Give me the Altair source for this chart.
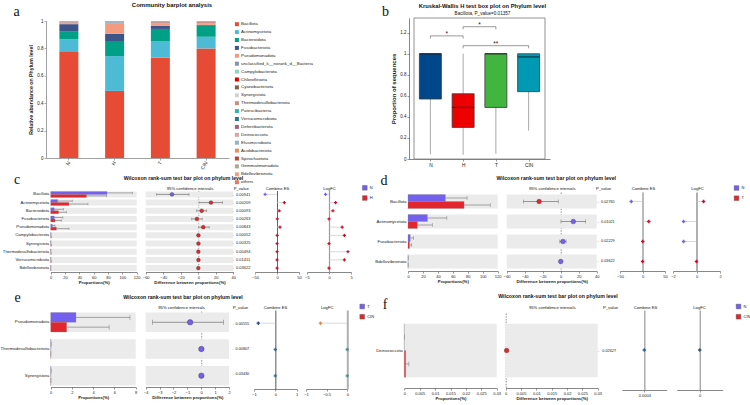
import altair as alt
import pandas as pd

FONT = "Liberation Sans"
SERIF = "Liberation Serif"
PURPLE = "#7460ee"
RED = "#e3262e"
BAND = "#ebebeb"
AXIS = "#555555"
TEXT = "#222222"
ERR = "#6e6e6e"
W, H = 750, 405

# ---------------- a: phylum composition per group ----------------
groups_a = ["N", "H", "T", "CIN"]
phyla = ["Bacillota", "Actinomycetota", "Bacteroidota", "Fusobacteriota", "Pseudomonadota",
         "unclassified_k__norank_d__Bacteria", "Campylobacterota", "Chloroflexota",
         "Cyanobacteriota", "Synergistota", "Thermodesulfobacteriota", "Patescibacteria",
         "Verrucomicrobiota", "Deferribacterota", "Deinococcota", "Elusimicrobiota",
         "Acidobacteriota", "Spirochaetota", "Gemmatimonadota", "Bdellovibrionota", "others"]
phylum_colors = ["#e64b35", "#4dbbd5", "#00a087", "#3c5488", "#f39b7f", "#8491b4", "#91d1c2",
                 "#dc0000", "#7e6148", "#d2d2d2", "#c4907f", "#35b1ad", "#2d7689", "#a0617f",
                 "#d9a3a3", "#8fb4c2", "#e3905c", "#b24a30", "#b3a594", "#eca08c", "#e27763"]
# relative abundance, one row per phylum, columns follow groups_a
abundance = [
    [0.779, 0.490, 0.732, 0.800],
    [0.088, 0.254, 0.122, 0.085],
    [0.059, 0.110, 0.088, 0.081],
    [0.051, 0.053, 0.024, 0.006],
    [0.006, 0.076, 0.017, 0.010],
    [0.003, 0.008, 0.004, 0.003],
    [0.002, 0.002, 0.003, 0.003],
    [0.002, 0.001, 0.002, 0.003],
    [0.001, 0.001, 0.001, 0.001],
    [0.001, 0.001, 0.001, 0.001],
    [0.001, 0.001, 0.001, 0.001],
    [0.001, 0.001, 0.001, 0.001],
    [0.001, 0.0005, 0.001, 0.001],
    [0.001, 0.0005, 0.001, 0.002],
    [0.001, 0.0005, 0.0005, 0.001],
    [0.0005, 0.0005, 0.0005, 0.0005],
    [0.0005, 0.0, 0.0005, 0.0005],
    [0.0005, 0.0, 0.0005, 0.0],
    [0.0005, 0.0, 0.0, 0.0],
    [0.0005, 0.0, 0.0, 0.0],
    [0.0005, 0.0, 0.0, 0.0],
]

# ---------------- b: Kruskal-Wallis box plot (Bacillota) ----------------
box_groups = ["N", "H", "T", "CIN"]
box_colors = ["#00468b", "#ed0000", "#42b540", "#0099b4"]
box_low = [0.045, 0.04, 0.05, 0.27]
box_q1 = [0.57, 0.30, 0.49, 0.64]
box_median = [1.0, 0.49, 1.0, 0.97]
box_q3 = [1.0, 0.62, 1.0, 1.0]
box_high = [1.0, 1.0, 1.0, 1.0]
sig_pairs = [("N", "H"), ("H", "T"), ("H", "CIN")]
sig_level = [1.17, 1.257, 1.077]
sig_mark = ["*", "*", "**"]

# ---------------- c: N vs H ----------------
c_taxa = ["Bacillota", "Actinomycetota", "Bacteroidota", "Fusobacteriota", "Pseudomonadota",
          "Campylobacterota", "Synergistota", "Thermodesulfobacteriota", "Verrucomicrobiota",
          "Bdellovibrionota"]
c_mean_1 = [78.6, 9.8, 5.0, 5.0, 2.3, 0.1, 0.05, 0.05, 0.05, 0.02]
c_sd_1 = [35.5, 20.2, 12.6, 12.0, 3.7, 0.3, 0.2, 0.2, 0.2, 0.1]
c_mean_2 = [50.0, 25.5, 11.0, 6.0, 8.0, 0.3, 0.3, 0.2, 0.3, 0.1]
c_sd_2 = [28.0, 26.5, 11.0, 9.0, 17.5, 0.6, 0.5, 0.4, 0.5, 0.2]
c_diff = [-30.0, 14.5, 3.9, -1.5, 5.7, 0.2, 0.2, 0.1, 0.2, 0.1]
c_ci_low = [-47.5, 0.8, -1.8, -7.5, 0.2, 0.0, 0.0, 0.0, 0.0, 0.0]
c_ci_high = [-10.6, 27.8, 9.6, 4.5, 12.5, 0.4, 0.4, 0.2, 0.4, 0.2]
c_pval = ["0.00941", "0.00209", "0.00093", "0.00263", "0.00843", "0.00052", "0.00325",
          "0.00494", "0.01411", "0.03622"]
c_es = [-27.0, 16.6, 5.0, 0.7, 6.8, 0.4, 0.3, 0.3, 0.2, 0.2]
c_lfc = [-0.8, 1.5, 0.9, 0.0, 3.0, 3.5, 0.0, 4.3, 3.5, 0.0]

# ---------------- d: N vs T ----------------
d_taxa = ["Bacillota", "Actinomycetota", "Fusobacteriota", "Bdellovibrionota"]
d_mean_1 = [50.0, 26.0, 3.0, 0.1]
d_sd_1 = [29.0, 26.0, 4.5, 0.1]
d_mean_2 = [75.0, 12.5, 2.0, 0.05]
d_sd_2 = [35.0, 20.0, 3.0, 0.1]
d_diff = [-24.0, 14.0, 2.5, 0.05]
d_ci_low = [-41.5, 0.3, -1.0, 0.0]
d_ci_high = [-2.7, 27.7, 6.0, 0.1]
d_pval = ["0.02765", "0.01021", "0.02229", "0.03622"]
d_es = [-25.0, 14.0, 0.5, 0.2]
d_lfc = [0.6, -1.1, -1.1, 0.0]

# ---------------- e: T vs CIN ----------------
e_taxa = ["Pseudomonadota", "Thermodesulfobacteriota", "Synergistota"]
e_mean_1 = [2.38, 0.02, 0.02]
e_sd_1 = [5.08, 0.02, 0.02]
e_mean_2 = [1.5, 0.01, 0.01]
e_sd_2 = [4.0, 0.01, 0.01]
e_diff = [-0.8, 0.01, 0.01]
e_ci_low = [-3.5, 0.0, 0.0]
e_ci_high = [1.6, 0.02, 0.02]
e_pval = ["0.00555", "0.00807", "0.03430"]
e_es = [-0.8, 0.0, 0.0]
e_lfc = [-0.65, 0.0, 0.0]

# ---------------- f: N vs CIN ----------------
f_taxa = ["Deinococcota"]
f_mean_1 = [0.0]
f_sd_1 = [0.0]
f_mean_2 = [0.00045]
f_sd_2 = [0.00105]
f_diff = [0.0003]
f_ci_low = [0.0]
f_ci_high = [0.0006]
f_pval = ["0.02627"]
f_es = [0.0004]
f_lfc = [0.0]

_one = pd.DataFrame({"v": [0]})


# ---------------- helpers ----------------
def px(v, dom, rng):
    """Pixel position of value v on a linear scale."""
    return rng[0] + (v - dom[0]) / (dom[1] - dom[0]) * (rng[1] - rng[0])


def ax(orient, offset, values=None, title=None, fmt="~g", fs=4.0, tfs=4.3, **kw):
    d = dict(orient=orient, offset=offset, title=title, labelFontSize=fs, titleFontSize=tfs,
             labelFont=FONT, titleFont=FONT, titleFontWeight="bold", tickSize=2, tickWidth=0.6,
             domainColor=AXIS, tickColor=AXIS, domainWidth=0.7, labelPadding=1, titlePadding=1.5,
             grid=False, labelColor=TEXT, titleColor=TEXT, labelFlush=False, labelOverlap=False)
    if values is not None:
        d["values"] = values
    if fmt:
        d["format"] = fmt
    d.update(kw)
    return alt.Axis(**d)


def line_axis(orient, offset, color, width, dash=None):
    """An axis reduced to its domain line, used as a reference line."""
    kw = dict(orient=orient, offset=offset, title=None, labels=False, ticks=False, grid=False,
              domain=True, domainColor=color, domainWidth=width)
    if dash:
        kw["domainDash"] = dash
    return alt.Axis(**kw)


def caption(text, xc, baseline, fs, weight="normal", font=FONT, span=40):
    """Free text rendered as the title of an otherwise empty top axis."""
    return alt.Chart(_one).mark_point(opacity=0).encode(
        x=alt.X("v:Q", scale=alt.Scale(domain=[0, 1], range=[xc - span / 2, xc + span / 2]),
                axis=alt.Axis(orient="top", offset=-baseline, labels=False, ticks=False,
                              domain=False, grid=False, title=text, titlePadding=0,
                              titleBaseline="alphabetic", titleFont=font, titleFontSize=fs,
                              titleFontWeight=weight, titleColor="#111111")))


layers = []

# ---------------- panel a ----------------
rows_a = []
for rank, (name, vals) in enumerate(zip(phyla, abundance)):
    for g, v in zip(groups_a, vals):
        rows_a.append({"group": g, "phylum": name, "rank": rank, "value": v})
df_a = pd.DataFrame(rows_a)

A_X, A_Y = [46, 229], [158, 21]
chart_a = alt.Chart(df_a).mark_bar().encode(
    x=alt.X("group:N", sort=groups_a,
            scale=alt.Scale(domain=groups_a, range=A_X, paddingInner=0.585, paddingOuter=0.2925),
            axis=ax("bottom", A_Y[0] - H, title=None, fmt=None, fs=5, labelAngle=-60,
                    domainColor="#777", tickColor="#777")),
    y=alt.Y("value:Q", stack="zero", scale=alt.Scale(domain=[0, 1], range=A_Y, nice=False),
            axis=ax("left", -A_X[0], values=[0, 0.2, 0.4, 0.6, 0.8, 1], fmt=".1~f", fs=4.5,
                    title="Relative abundance on Phylum level", tfs=5.2, titlePadding=3,
                    domainColor="#777", tickColor="#777")),
    color=alt.Color("phylum:N", sort=phyla, scale=alt.Scale(domain=phyla, range=phylum_colors),
                    legend=alt.Legend(orient="none", legendX=234.7, legendY=22, title=None,
                                      symbolType="square", symbolSize=16, symbolStrokeWidth=0,
                                      labelFontSize=4.4, labelFont=FONT, labelColor=TEXT,
                                      rowPadding=1.9, padding=0, labelOffset=2,
                                      labelLimit=300, symbolLimit=40)),
    order=alt.Order("rank:Q", sort="ascending"),
)
layers += [chart_a, caption("Community barplot analysis", 171.5, 6.3, 6, "bold"),
           caption("a", 16, 15.5, 14, font=SERIF, span=10)]

# ---------------- panel b ----------------
df_b = pd.DataFrame({"group": box_groups, "pos": list(range(len(box_groups))),
                     "low": box_low, "q1": box_q1, "median": box_median,
                     "q3": box_q3, "high": box_high})
df_sig = pd.DataFrame({"x1": [box_groups.index(a) for a, _ in sig_pairs],
                       "x2": [box_groups.index(b) for _, b in sig_pairs],
                       "level": sig_level, "mark": sig_mark})
B_X, B_Y = [409, 550], [159, 18]
B_XD, B_YD = [-0.5, len(box_groups) - 0.5], [0, 1.34]
bxs = alt.Scale(domain=B_XD, range=B_X, nice=False, zero=False)
bys = alt.Scale(domain=B_YD, range=B_Y, nice=False, zero=False)
label_expr = "[" + ",".join("'%s'" % g for g in box_groups) + "][datum.value]"
whisk = alt.Chart(df_b).mark_rule(color="#a8a8a8", strokeWidth=1).encode(
    x=alt.X("pos:Q", scale=bxs,
            axis=ax("bottom", B_Y[0] - H, values=list(range(len(box_groups))), fmt=None,
                    labelExpr=label_expr, fs=4.8)),
    y=alt.Y("low:Q", scale=bys,
            axis=ax("left", -B_X[0], values=[round(i * 0.1, 1) for i in range(13)], fs=4.5,
                    title="Proportion of sequences", tfs=6, titlePadding=3)),
    y2="high:Q")
frame = alt.Chart(_one).mark_rect(fillOpacity=0, stroke="#777777", strokeWidth=0.8).encode(
    x=alt.X(datum=B_XD[0], scale=bxs), x2=alt.datum(B_XD[1]),
    y=alt.Y(datum=B_YD[0], scale=bys), y2=alt.datum(B_YD[1]))
boxes = alt.Chart(df_b).mark_bar(size=22, stroke="#3a3a3a", strokeWidth=0.8).encode(
    x="pos:Q", y="q1:Q", y2="q3:Q",
    color=alt.Color("group:N", scale=alt.Scale(domain=box_groups, range=box_colors), legend=None))
medians = alt.Chart(df_b).mark_tick(size=22, thickness=1.2, color="#111111",
                                    orient="horizontal").encode(x="pos:Q", y="median:Q")
brk = alt.Chart(df_sig).mark_rule(color="#555", strokeWidth=0.6).encode(
    x="x1:Q", x2="x2:Q", y="level:Q")
brk_ends = alt.Chart(df_sig).transform_fold(["x1", "x2"], as_=["end", "xe"]).transform_calculate(
    foot="datum.level - 0.025").mark_rule(color="#555", strokeWidth=0.6).encode(
    x="xe:Q", y="foot:Q", y2="level:Q")
stars = alt.Chart(df_sig).transform_calculate(mid="(datum.x1 + datum.x2) / 2").mark_text(
    fontSize=6.5, baseline="bottom", dy=1.5, color=TEXT, font=FONT).encode(
    x="mid:Q", y="level:Q", text="mark:N")
layers += [alt.layer(whisk, frame, boxes, medians, brk, brk_ends, stars),
           caption("Kruskal-Wallis H test box plot on Phylum level", 482, 7, 5.8, "bold"),
           caption("Bacillota, P_value=0.01357", 482, 14, 4.6),
           caption("b", 385, 15, 14, font=SERIF, span=10)]


# ---------------- Wilcoxon panels ----------------
def sign_of(v):
    return "neg" if v < 0 else ("pos" if v > 0 else "zero")


def wilcoxon(d, L):
    taxa = d["taxa"]
    g1, g2 = d["groups"]
    n = len(taxa)
    bars_df = pd.DataFrame({"taxon": taxa * 2, "group": [g1] * n + [g2] * n,
                            "mean": list(d["m1"]) + list(d["m2"]),
                            "sd": list(d["s1"]) + list(d["s2"])})
    bars_df["end"] = bars_df["mean"] + bars_df["sd"]
    rows = pd.DataFrame({"taxon": taxa, "diff": d["diff"], "lo": d["lo"], "hi": d["hi"],
                         "pval": d["pval"], "es": d["es"], "lfc": d["lfc"]})
    rows["higher"] = [g1 if a >= b else g2 for a, b in zip(d["m1"], d["m2"])]
    rows["es_sign"] = [sign_of(v) for v in d["es"]]
    rows["lfc_sign"] = [sign_of(v) for v in d["lfc"]]

    ys = alt.Scale(domain=taxa, range=L["y"], paddingInner=L["pin"], paddingOuter=L["pout"])
    yes = alt.Scale(domain=taxa, range=L["es_y"], paddingInner=L["es_pin"],
                    paddingOuter=L["es_pout"])
    axis_y = L["y"][1]
    grp = alt.Scale(domain=[g1, g2], range=[PURPLE, RED])
    yo = alt.YOffset("group:N", sort=[g1, g2], scale=alt.Scale(domain=[g1, g2]))
    out = []

    # proportions
    pxs = alt.Scale(domain=L["prop_dom"], range=L["prop_x"], nice=False)
    bg = alt.Chart(rows).mark_bar(color=BAND).encode(
        y=alt.Y("taxon:N", sort=taxa, scale=ys,
                axis=alt.Axis(orient="left", offset=-L["prop_x"][0], title=None, domain=False,
                              ticks=False, grid=False, labelFontSize=L["fs_taxa"],
                              labelFont=FONT, labelColor=TEXT, labelPadding=2, labelLimit=300)),
        x=alt.X(datum=L["prop_dom"][0], scale=pxs), x2=alt.datum(L["prop_dom"][1]))
    bar = alt.Chart(bars_df).mark_bar(stroke="#8a8a8a", strokeWidth=0.3).encode(
        x=alt.X("mean:Q", scale=pxs,
                axis=ax("bottom", axis_y - H, values=L["prop_ticks"], title="Proportions(%)")),
        y=alt.Y("taxon:N", sort=taxa, scale=ys), yOffset=yo,
        color=alt.Color("group:N", sort=[g1, g2], scale=grp,
                        legend=alt.Legend(orient="none", legendX=L["leg"][0],
                                          legendY=L["leg"][1], title=None,
                                          symbolType="square", symbolSize=22,
                                          symbolStrokeWidth=0.4, symbolStrokeColor="#555",
                                          labelFontSize=4, labelFont=FONT, labelColor=TEXT,
                                          rowPadding=2.2, padding=0, labelOffset=2)))
    err = alt.Chart(bars_df).mark_rule(color=ERR, strokeWidth=0.6).encode(
        x="mean:Q", x2="end:Q", y=alt.Y("taxon:N", sort=taxa, scale=ys), yOffset=yo)
    cap = alt.Chart(bars_df).mark_tick(color=ERR, thickness=0.6, size=L["cap"],
                                       orient="vertical").encode(
        x="end:Q", y=alt.Y("taxon:N", sort=taxa, scale=ys), yOffset=yo)
    out.append(alt.layer(bg, bar, err, cap))

    # confidence intervals
    cxs = alt.Scale(domain=L["ci_dom"], range=L["ci_x"], nice=False, zero=False)
    zero_px = px(0, L["ci_dom"], L["ci_x"])
    bg2 = alt.Chart(rows).mark_bar(color=BAND).encode(
        y=alt.Y("taxon:N", sort=taxa, scale=ys,
                axis=line_axis("left", -zero_px, "#444444", 0.6, [1.5, 1.2])),
        x=alt.X(datum=L["ci_dom"][0], scale=cxs,
                axis=ax("bottom", axis_y - H, values=L["ci_ticks"],
                        title="Difference between proportions(%)")),
        x2=alt.datum(L["ci_dom"][1]))
    ci = alt.Chart(rows).mark_rule(color=ERR, strokeWidth=0.7).encode(
        x="lo:Q", x2="hi:Q", y=alt.Y("taxon:N", sort=taxa, scale=ys))
    ci_caps = alt.Chart(rows).transform_fold(["lo", "hi"], as_=["end", "val"]).mark_tick(
        color=ERR, thickness=0.7, size=L["ci_cap"], orient="vertical").encode(
        x="val:Q", y=alt.Y("taxon:N", sort=taxa, scale=ys))
    pt = alt.Chart(rows).mark_circle(size=L["pt"], stroke="#3a3a3a", strokeWidth=0.4,
                                     opacity=1).encode(
        x="diff:Q", y=alt.Y("taxon:N", sort=taxa, scale=ys),
        color=alt.Color("higher:N", scale=grp, legend=None))
    out.append(alt.layer(bg2, ci, ci_caps, pt))

    # p-values with a small marker in front
    out.append(alt.Chart(rows).mark_text(color="#f07a7a", fontSize=L["fs_p"],
                                         fontWeight="bold").encode(
        y=alt.Y("taxon:N", sort=taxa, scale=ys, axis=None),
        x=alt.X(datum=0, scale=alt.Scale(domain=[0, 1], range=[L["p_mark"], L["p_mark"] + 1]),
                axis=None),
        text=alt.value("-")))
    out.append(alt.Chart(rows).mark_text(align="left", color=TEXT, fontSize=L["fs_p"],
                                         font=FONT).encode(
        y=alt.Y("taxon:N", sort=taxa, scale=ys, axis=None),
        x=alt.X(datum=0, scale=alt.Scale(domain=[0, 1], range=[L["p_text"], L["p_text"] + 1]),
                axis=None),
        text="pval:N"))

    # effect size and fold change columns
    for key, sign in (("es", "es_sign"), ("lfc", "lfc_sign")):
        dom, rng = L[key + "_dom"], L[key + "_x"]
        ref = L.get(key + "_ref", 0)
        xs = alt.Scale(domain=dom, range=rng, nice=False, zero=False)
        link = alt.Chart(rows).transform_calculate(base=str(ref)).mark_rule(
            color="#c8c8c8", strokeWidth=0.7).encode(
            x=alt.X("base:Q", scale=xs,
                    axis=ax("bottom", L["es_y"][1] - H, values=L[key + "_ticks"],
                            fmt=L.get(key + "_fmt", "~g"))),
            x2=f"{key}:Q",
            y=alt.Y("taxon:N", sort=taxa, scale=yes,
                    axis=line_axis("left", -px(ref, dom, rng), L[key + "_line"],
                                   L[key + "_lw"])))
        pts = alt.Chart(rows).mark_point(shape="cross", filled=True, size=L["es_pt"],
                                         strokeWidth=0, opacity=1).encode(
            x=f"{key}:Q", y=alt.Y("taxon:N", sort=taxa, scale=yes),
            color=alt.Color(f"{sign}:N", scale=alt.Scale(domain=["neg", "zero", "pos"],
                                                         range=L[key + "_colors"]),
                            legend=None))
        out.append(alt.layer(link, pts))

    # texts
    out += [
        caption("Wilcoxon rank-sum test bar plot on phylum level", L["title_x"], L["title_y"],
                5.2, "bold", span=120),
        caption("95% confidence intervals", L["ci_head"], L["head_y"], 4.2),
        caption("P_value", L["p_head"], L["head_y"], 4.2),
        caption("Combine ES", L["es_head"], L["head_y"], 4.2),
        caption("LogFC", L["lfc_head"], L["head_y"], 4.2),
        caption(L["letter"], L["letter_x"], L["letter_y"], 14, font=SERIF, span=10),
    ]
    return out


CD_COLORS = ["#7460ee", "#c8102e", "#c8102e"]

Lc = dict(y=[190.5, 272], pin=0.27, pout=0.11, es_y=[190.5, 272], es_pin=0.27, es_pout=0.11,
          prop_x=[50.7, 136.7], prop_dom=[0, 120], prop_ticks=[0, 20, 40, 60, 80, 100, 120],
          ci_x=[145.7, 233.3], ci_dom=[-60, 40], ci_ticks=[-60, -40, -20, 0, 20, 40],
          p_mark=233.5, p_text=236,
          es_x=[255, 299], es_dom=[-50, 50], es_ticks=[-50, 0, 50], es_colors=CD_COLORS,
          es_line="#555555", es_lw=0.9,
          lfc_x=[307, 351], lfc_dom=[-5, 5], lfc_ticks=[-5, 0, 5], lfc_colors=CD_COLORS,
          lfc_line="#9a9a9a", lfc_lw=1.2,
          fs_taxa=4.2, fs_p=4.0, pt=14, es_pt=10, cap=2.5, ci_cap=2.5, leg=(361.8, 184.8),
          title_x=183, title_y=179, head_y=189.8, ci_head=189.5, p_head=240.7, es_head=277,
          lfc_head=329, letter="c", letter_x=16.5, letter_y=183.5)
Ld = dict(y=[192, 271], pin=0.3, pout=0.125, es_y=[192, 271], es_pin=0.3, es_pout=0.125,
          prop_x=[408, 497.7], prop_dom=[0, 120], prop_ticks=[0, 20, 40, 60, 80, 100, 120],
          ci_x=[506.7, 596.7], ci_dom=[-60, 40], ci_ticks=[-60, -40, -20, 0, 20, 40],
          p_mark=598, p_text=601,
          es_x=[620, 665], es_dom=[-50, 50], es_ticks=[-50, 0, 50], es_colors=CD_COLORS,
          es_line="#666666", es_lw=0.9,
          lfc_x=[673, 720], lfc_dom=[-2, 2], lfc_ticks=[-2, 0, 2], lfc_colors=CD_COLORS,
          lfc_line="#b0b0b0", lfc_lw=2,
          fs_taxa=4.4, fs_p=3.8, pt=22, es_pt=12, cap=4, ci_cap=4, leg=(733.5, 185),
          title_x=555.7, title_y=179.2, head_y=189.8, ci_head=551.7, p_head=603, es_head=643,
          lfc_head=697, letter="d", letter_x=383.5, letter_y=184)
Le = dict(y=[311, 387], pin=0.27, pout=0.058, es_y=[310, 389], es_pin=0, es_pout=0,
          prop_x=[50.7, 135.7], prop_dom=[0, 8], prop_ticks=[0, 2, 4, 6, 8],
          ci_x=[145.7, 229], ci_dom=[-4, 2], ci_ticks=[-4, -3, -2, -1, 0, 1, 2],
          p_mark=233.3, p_text=235.5,
          es_x=[254, 296.7], es_dom=[-1, 1], es_ticks=[-1, 0, 1],
          es_colors=["#2a4b8d", "#2f6f8f", "#2f6f8f"], es_line="#444444", es_lw=0.9,
          lfc_x=[306, 347.3], lfc_dom=[-1, 0], lfc_ticks=[-1, -0.5, 0],
          lfc_colors=["#d98a4e", "#3d9a8b", "#3d9a8b"], lfc_line="#b0b0b0", lfc_lw=2,
          fs_taxa=4.4, fs_p=3.8, pt=30, es_pt=12, cap=5, ci_cap=5, leg=(359.2, 303.5),
          title_x=182.5, title_y=298.6, head_y=308.8, ci_head=181, p_head=240, es_head=275,
          lfc_head=326.7, letter="e", letter_x=17, letter_y=301.7)
Lf = dict(y=[313, 388], pin=0, pout=0.2, es_y=[310, 390], es_pin=0, es_pout=0,
          prop_x=[404.3, 496.7], prop_dom=[0, 0.03],
          prop_ticks=[0, 0.005, 0.01, 0.015, 0.02, 0.025, 0.03],
          ci_x=[505.7, 597.7], ci_dom=[0, 0.03],
          ci_ticks=[0, 0.005, 0.01, 0.015, 0.02, 0.025, 0.03],
          p_mark=598.5, p_text=602.3,
          es_x=[622, 666.7], es_dom=[0.0002, 0.0006], es_ticks=[0.0004], es_ref=0.0004,
          es_colors=["#2b5aa8", "#2b5aa8", "#2b5aa8"], es_line="#777777", es_lw=0.9,
          lfc_x=[676.7, 722.7], lfc_dom=[-1, 1], lfc_ticks=[0],
          lfc_colors=["#2b5aa8", "#2b5aa8", "#2b5aa8"], lfc_line="#777777", lfc_lw=0.9,
          fs_taxa=4.4, fs_p=3.8, pt=22, es_pt=12, cap=5, ci_cap=4, leg=(735.5, 303.5),
          title_x=557.5, title_y=297.6, head_y=308.5, ci_head=551.7, p_head=610, es_head=645,
          lfc_head=699, letter="f", letter_x=384.5, letter_y=308)

layers += wilcoxon(dict(taxa=c_taxa, groups=("N", "H"), m1=c_mean_1, s1=c_sd_1, m2=c_mean_2,
                        s2=c_sd_2, diff=c_diff, lo=c_ci_low, hi=c_ci_high, pval=c_pval,
                        es=c_es, lfc=c_lfc), Lc)
layers += wilcoxon(dict(taxa=d_taxa, groups=("N", "T"), m1=d_mean_1, s1=d_sd_1, m2=d_mean_2,
                        s2=d_sd_2, diff=d_diff, lo=d_ci_low, hi=d_ci_high, pval=d_pval,
                        es=d_es, lfc=d_lfc), Ld)
layers += wilcoxon(dict(taxa=e_taxa, groups=("T", "CIN"), m1=e_mean_1, s1=e_sd_1, m2=e_mean_2,
                        s2=e_sd_2, diff=e_diff, lo=e_ci_low, hi=e_ci_high, pval=e_pval,
                        es=e_es, lfc=e_lfc), Le)
layers += wilcoxon(dict(taxa=f_taxa, groups=("N", "CIN"), m1=f_mean_1, s1=f_sd_1, m2=f_mean_2,
                        s2=f_sd_2, diff=f_diff, lo=f_ci_low, hi=f_ci_high, pval=f_pval,
                        es=f_es, lfc=f_lfc), Lf)

chart = alt.layer(*layers).resolve_scale(
    x="independent", y="independent", color="independent", yOffset="independent"
).properties(
    width=W, height=H, padding=0, background="white",
    autosize=alt.AutoSizeParams(type="none"),
).configure_view(stroke=None)

chart.save("out.html", embed_options={"renderer": "svg", "actions": False})
